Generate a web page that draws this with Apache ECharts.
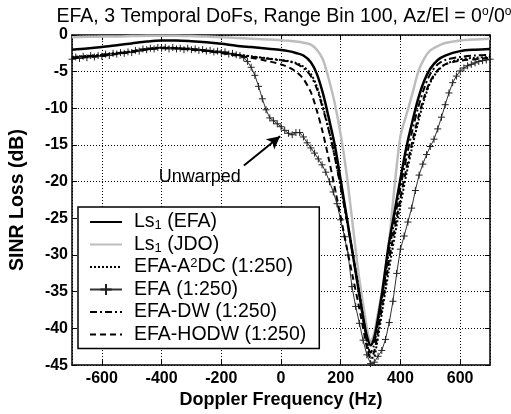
<!DOCTYPE html>
<html>
<head>
<meta charset="utf-8">
<script src="https://cdn.jsdelivr.net/npm/echarts@6/dist/echarts.min.js"></script>
<style>
  html, body { margin: 0; padding: 0; background: #fff; }
  #chart { width: 511px; height: 414px; }
</style>
</head>
<body>
<div id="chart"></div>
<script>
// Doppler frequencies (Hz) for the smooth loss curves
const freqA = [-700, -650, -600, -550, -500, -450, -400, -350, -300, -250, -200, -150, -100, -50, 0,
  25, 50, 75, 100, 120, 140, 160, 180, 200, 220, 240, 260, 280, 290, 300, 310, 320,
  340, 360, 380, 400, 420, 440, 460, 480, 500, 525, 550, 600, 650, 700];

// SINR loss (dB) at freqA
const lsEFA = [-2.0, -1.85, -1.65, -1.4, -1.15, -0.9, -0.75, -0.75, -0.85, -1.0, -1.2, -1.45, -1.65, -1.85, -2.05,
  -2.2, -2.45, -2.8, -3.7, -5.3, -7.9, -11.3, -15.0, -19.8, -24.8, -29.8, -34.8, -39.6, -41.4, -42.3, -41.6, -39.8,
  -34.8, -28.8, -24.2, -19.6, -15.3, -11.8, -8.6, -6.2, -4.6, -3.4, -2.8, -2.2, -2.0, -1.9];
const lsJDO = [-0.3, -0.25, -0.2, -0.2, -0.15, -0.1, -0.1, -0.1, -0.15, -0.2, -0.3, -0.4, -0.5, -0.6, -0.7,
  -0.8, -0.9, -1.05, -1.3, -2.0, -3.3, -6.0, -9.3, -13.6, -19.0, -25.8, -32.6, -38.0, -40.5, -41.8, -41.0, -39.0,
  -34.5, -29.0, -20.8, -13.8, -10.9, -8.0, -5.0, -3.2, -2.1, -1.5, -1.1, -0.75, -0.6, -0.5];
const a2dc = [-3.0, -2.85, -2.7, -2.45, -2.2, -1.9, -1.7, -1.75, -1.9, -2.1, -2.35, -2.65, -2.9, -3.15, -3.4,
  -3.55, -3.8, -4.3, -5.3, -7.0, -9.7, -12.9, -16.6, -20.6, -25.0, -29.6, -34.5, -39.6, -42.3, -44.0, -44.0, -42.4,
  -37.4, -32.4, -27.6, -23.2, -19.0, -15.2, -11.8, -8.8, -6.5, -4.9, -4.0, -3.3, -3.1, -3.0];
const dw = [-3.1, -2.9, -2.75, -2.5, -2.25, -1.95, -1.75, -1.8, -1.95, -2.15, -2.4, -2.7, -2.95, -3.2, -3.45,
  -3.6, -3.9, -4.5, -5.6, -7.3, -10.0, -13.0, -16.6, -20.8, -25.2, -29.8, -34.8, -40.0, -42.2, -43.3, -42.5, -40.5,
  -35.5, -30.0, -25.3, -20.8, -16.7, -13.0, -9.8, -7.2, -5.3, -4.0, -3.4, -3.0, -2.8, -2.7];
const hodw = [-3.2, -3.0, -2.85, -2.6, -2.3, -2.0, -1.8, -1.85, -2.0, -2.2, -2.45, -2.8, -3.1, -3.5, -4.0,
  -4.4, -5.0, -6.0, -7.8, -10.3, -13.3, -16.9, -20.8, -24.8, -28.9, -32.9, -36.8, -41.0, -43.0, -44.0, -43.4, -41.6,
  -36.6, -31.2, -26.6, -22.2, -18.2, -14.5, -11.2, -8.4, -6.3, -4.8, -4.0, -3.5, -3.3, -3.1];

// Unwarped EFA (1:250) samples
const freqB = [-700, -687.5, -675, -662.5, -650, -637.5, -625, -612.5, -600, -587.5, -575, -562.5, -550, -537.5,
  -525, -512.5, -500, -487.5, -475, -462.5, -450, -437.5, -425, -412.5, -400, -387.5, -375, -362.5, -350, -337.5,
  -325, -312.5, -300, -287.5, -275, -262.5, -250, -237.5, -225, -212.5, -200, -187.5, -175, -162.5, -150, -137.5,
  -125, -112.5, -100, -87.5, -75, -62.5, -50, -37.5, -25, -12.5, 0, 12.5, 25, 37.5, 50, 62.5, 75, 87.5, 100,
  112.5, 125, 137.5, 150, 162.5, 175, 187.5, 200, 212.5, 225, 237.5, 250, 262.5, 275, 287.5, 300, 312.5, 325,
  337.5, 350, 362.5, 375, 387.5, 400, 412.5, 425, 437.5, 450, 462.5, 475, 487.5, 500, 512.5, 525, 537.5, 550,
  562.5, 575, 587.5, 600, 612.5, 625, 637.5, 650, 662.5, 675, 687.5, 700];
const efaUnwarped = [-3.3, -3.0, -3.2, -2.9, -3.1, -2.8, -3.0, -2.8, -2.9, -2.6, -2.8, -2.5, -2.6, -2.4,
  -2.5, -2.3, -2.4, -2.1, -2.2, -1.9, -2.0, -1.8, -1.9, -1.7, -1.8, -1.7, -1.9, -1.7, -1.9, -1.8,
  -2.0, -1.8, -2.0, -1.9, -2.1, -2.0, -2.2, -2.1, -2.3, -2.2, -2.4, -2.3, -2.6, -2.5, -2.7, -2.8,
  -3.1, -3.6, -4.4, -5.5, -7.0, -8.7, -10.2, -11.3, -11.7, -12.1, -12.5, -13.0, -13.4, -13.6, -13.3, -13.3, -13.9, -14.7, -15.4,
  -16.1, -16.9, -17.7, -18.7, -20.0, -21.4, -23.0, -25.2, -27.5, -30.0, -34.3, -37.0, -39.3, -41.6, -43.6, -44.8, -44.6, -43.8,
  -43.0, -41.5, -39.2, -36.3, -32.5, -29.2, -27.4, -25.5, -23.6, -21.2, -19.1, -17.6, -16.3, -15.2, -14.2, -12.8, -11.2, -9.5,
  -7.9, -6.5, -5.6, -4.9, -4.5, -4.2, -4.0, -3.8, -3.6, -3.5, -3.4, -3.3];

// Annotation: label position and arrow (tail -> head), in Hz / dB
const noteText = 'Unwarped';
const notePos = [-272, -19.4];
const arrowTail = [-124, -17.8];
const arrowHead = [-3, -13.8];

const legendNames = ['Ls1 (EFA)', 'Ls1 (JDO)', 'EFA-A2DC (1:250)', 'EFA (1:250)', 'EFA-DW (1:250)', 'EFA-HODW (1:250)'];
const legendRich = {
  'Ls1 (EFA)': 'Ls{sub|1} (EFA)',
  'Ls1 (JDO)': 'Ls{sub|1} (JDO)',
  'EFA-A2DC (1:250)': 'EFA-A{sup|2}DC (1:250)',
  'EFA (1:250)': 'EFA (1:250)',
  'EFA-DW (1:250)': 'EFA-DW (1:250)',
  'EFA-HODW (1:250)': 'EFA-HODW (1:250)'
};
// only the unwarped curve shows a marker in its legend entry
const legendMarked = ['EFA (1:250)'];

const FONT = '"Liberation Sans", Arial, Helvetica, sans-serif';
const pairs = (xs, ys) => xs.map((x, i) => [x, ys[i]]);

const chart = echarts.init(document.getElementById('chart'), null, { renderer: 'canvas' });

const baseX = {
  type: 'value', min: -700, max: 700, splitNumber: 7,
  axisLine: { show: true, onZero: false, lineStyle: { color: '#000', width: 1.5 } },
  axisTick: { show: true, inside: true, length: 5, lineStyle: { color: '#000', width: 1 } }
};
const baseY = {
  type: 'value', min: -45, max: 0, interval: 5,
  axisLine: { show: true, onZero: false, lineStyle: { color: '#000', width: 1.5 } },
  axisTick: { show: true, inside: true, length: 5, lineStyle: { color: '#000', width: 1 } }
};

const option = {
  animation: false,
  backgroundColor: '#fff',
  title: {
    text: 'EFA, 3 Temporal DoFs, Range Bin 100, Az/El = 0{s|o}/0{s|o}',
    left: 279, top: 1, textAlign: 'center',
    textStyle: {
      fontFamily: FONT, fontSize: 19.5, fontWeight: 'normal', color: '#000', lineHeight: 22,
      rich: { s: { fontFamily: FONT, fontSize: 12, color: '#000', lineHeight: 6, verticalAlign: 'top' } }
    }
  },
  grid: { left: 68, top: 35, width: 422, height: 336, containLabel: false },
  xAxis: [
    Object.assign({}, baseX, {
      position: 'bottom',
      name: 'Doppler Frequency (Hz)', nameLocation: 'middle', nameGap: 13,
      nameTextStyle: { fontFamily: FONT, fontSize: 18, fontWeight: 'bold', color: '#000', verticalAlign: 'top' },
      axisLabel: { show: true, margin: 5, showMinLabel: false, showMaxLabel: false,
        fontFamily: FONT, fontSize: 16, fontWeight: 'bold', color: '#000' },
      splitLine: { show: true, lineStyle: { color: '#000', width: 1, type: [1, 2] } }
    }),
    Object.assign({}, baseX, {
      position: 'top', axisLabel: { show: false }, splitLine: { show: false }
    })
  ],
  yAxis: [
    Object.assign({}, baseY, {
      position: 'left',
      name: 'SINR Loss (dB)', nameLocation: 'middle', nameGap: 44, nameRotate: 90,
      nameTextStyle: { fontFamily: FONT, fontSize: 19.5, fontWeight: 'bold', color: '#000' },
      axisLabel: { show: true, margin: 4, fontFamily: FONT, fontSize: 16, fontWeight: 'bold', color: '#000' },
      splitLine: { show: true, lineStyle: { color: '#000', width: 1, type: [1, 2] } }
    }),
    Object.assign({}, baseY, {
      position: 'right', axisLabel: { show: false }, splitLine: { show: false }
    })
  ],
  legend: {
    data: legendNames.map(n => legendMarked.includes(n) ? { name: n } : { name: n, itemStyle: { opacity: 0 } }),
    orient: 'vertical',
    left: 78, top: 207,
    padding: [5, 13, 4, 11],
    itemWidth: 32, itemHeight: 14, itemGap: 2.5,
    borderColor: '#000', borderWidth: 1.5, backgroundColor: '#fff',
    selectedMode: false,
    formatter: name => legendRich[name],
    textStyle: {
      fontFamily: FONT, fontSize: 19.5, color: '#000', lineHeight: 20, padding: [0, 0, 0, 7],
      rich: {
        sub: { fontFamily: FONT, fontSize: 13, color: '#000', lineHeight: 4, verticalAlign: 'bottom' },
        sup: { fontFamily: FONT, fontSize: 13, color: '#000', lineHeight: 4, verticalAlign: 'top' }
      }
    }
  },
  series: [
    {
      name: 'Ls1 (JDO)', type: 'line', data: pairs(freqA, lsJDO),
      showSymbol: false, symbol: 'none', smooth: 0.3, color: '#bdbdbd',
      lineStyle: { color: '#bdbdbd', width: 2.5, type: 'solid' }, z: 2
    },
    {
      name: 'EFA (1:250)', type: 'line', data: pairs(freqB, efaUnwarped),
      symbol: 'path://M0,5L10,5M5,0L5,10', symbolSize: 7, showSymbol: true, color: '#222',
      itemStyle: { color: '#222', borderColor: '#222', borderWidth: 1 },
      lineStyle: { color: '#333', width: 1, type: 'solid' }, z: 3,
      markLine: {
        silent: true, animation: false, symbol: ['none', 'arrow'], symbolSize: [10, 13],
        lineStyle: { color: '#000', width: 2, type: 'solid' },
        label: { show: false },
        data: [[{ coord: arrowTail }, { coord: arrowHead }]]
      },
      markPoint: {
        silent: true, animation: false, symbol: 'circle', symbolSize: 0,
        label: { show: true, position: 'inside', formatter: noteText, fontFamily: FONT, fontSize: 18, color: '#000' },
        data: [{ coord: notePos }]
      }
    },
    {
      name: 'EFA-HODW (1:250)', type: 'line', data: pairs(freqA, hodw),
      showSymbol: false, symbol: 'none', smooth: 0.3, color: '#000',
      lineStyle: { color: '#000', width: 2, type: [6, 4] }, z: 4
    },
    {
      name: 'EFA-DW (1:250)', type: 'line', data: pairs(freqA, dw),
      showSymbol: false, symbol: 'none', smooth: 0.3, color: '#000',
      lineStyle: { color: '#000', width: 2, type: [7, 3, 2, 3] }, z: 4
    },
    {
      name: 'EFA-A2DC (1:250)', type: 'line', data: pairs(freqA, a2dc),
      showSymbol: false, symbol: 'none', smooth: 0.3, color: '#000',
      lineStyle: { color: '#000', width: 2, type: [2, 2] }, z: 4
    },
    {
      name: 'Ls1 (EFA)', type: 'line', data: pairs(freqA, lsEFA),
      showSymbol: false, symbol: 'none', smooth: 0.3, color: '#000',
      lineStyle: { color: '#000', width: 2.5, type: 'solid' }, z: 5
    }
  ]
};

chart.setOption(option);
</script>
</body>
</html>
